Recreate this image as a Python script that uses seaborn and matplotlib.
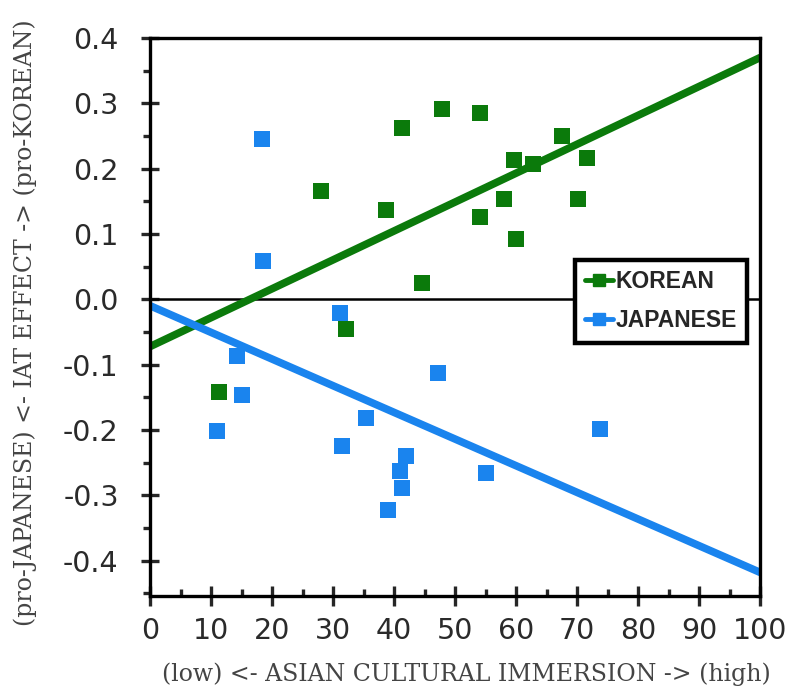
import matplotlib
matplotlib.use("Agg")
import matplotlib.pyplot as plt
from matplotlib.lines import Line2D
from matplotlib.ticker import MultipleLocator
import pandas as pd
import seaborn as sns

# immersion score and IAT effect
korean_x = [28.0, 38.7, 41.3, 47.9, 54.1, 54.1, 44.6, 58.0, 59.7, 62.8,
            67.5, 71.6, 70.2, 60.0, 32.1, 11.3]
korean_y = [0.166, 0.137, 0.262, 0.292, 0.285, 0.126, 0.025, 0.153, 0.213, 0.207,
            0.250, 0.216, 0.153, 0.092, -0.045, -0.142]

japanese_x = [18.4, 18.5, 31.1, 14.3, 15.1, 11.0, 35.4, 31.5, 39.0, 41.0,
              42.0, 41.3, 47.2, 55.1, 73.8]
japanese_y = [0.245, 0.059, -0.021, -0.086, -0.147, -0.201, -0.181, -0.225, -0.323, -0.262,
              -0.240, -0.288, -0.112, -0.266, -0.198]

groups = ["KOREAN", "JAPANESE"]
colors = {"KOREAN": "#0b7a0b", "JAPANESE": "#1a84ee"}

y_ticks = [-0.4, -0.3, -0.2, -0.1, 0.0, 0.1, 0.2, 0.3, 0.4]
y_labels = ["-0.4", "-0.3", "-0.2", "-0.1", "0.0", "0.1", "0.2", "0.3", "0.4"]

df = pd.concat([
    pd.DataFrame({"immersion": korean_x, "iat": korean_y, "group": "KOREAN"}),
    pd.DataFrame({"immersion": japanese_x, "iat": japanese_y, "group": "JAPANESE"}),
])

sns.set_style("ticks")
plt.rcParams["font.family"] = ["DejaVu Sans"]

fig = plt.figure(figsize=(7.9, 6.88), dpi=100)
ax = fig.add_axes([150 / 790, 1 - 596 / 688, 610 / 790, 558 / 688])
ax.set_xlim(0, 100)
ax.set_ylim(-0.454, 0.4)

ax.axhline(0, color="black", lw=1.8, zorder=1)

for g in groups:
    sub = df[df.group == g]
    sns.regplot(data=sub, x="immersion", y="iat", ax=ax, ci=None, truncate=False,
                marker="s", color=colors[g],
                scatter_kws={"s": 125, "linewidths": 0, "alpha": 1, "zorder": 3},
                line_kws={"lw": 5.5, "zorder": 2})

ax.set_xlim(0, 100)
ax.set_ylim(-0.454, 0.4)

for side in ["left", "right", "top", "bottom"]:
    ax.spines[side].set_linewidth(2.4)
    ax.spines[side].set_color("black")

ax.xaxis.set_major_locator(MultipleLocator(10))
ax.xaxis.set_minor_locator(MultipleLocator(5))
ax.yaxis.set_minor_locator(MultipleLocator(0.05))
ax.set_yticks(y_ticks)
ax.set_yticklabels(y_labels)

ax.tick_params(axis="x", which="major", direction="inout", length=14, width=2.4,
               labelsize=20.5, pad=8, labelcolor="#2a2a2a")
ax.tick_params(axis="x", which="minor", direction="in", length=5, width=2.4)
ax.tick_params(axis="y", which="major", direction="inout", length=13, width=2.4,
               labelsize=20.5, pad=16, labelcolor="#2a2a2a")
ax.tick_params(axis="y", which="minor", direction="out", length=5, width=2.4)

ax.set_xlabel("(low) <- ASIAN CULTURAL IMMERSION -> (high)", family="DejaVu Serif",
              fontsize=17, color="#444444")
ax.set_ylabel("(pro-JAPANESE) <- IAT EFFECT -> (pro-KOREAN)", family="DejaVu Serif",
              fontsize=17, color="#444444")
ax.xaxis.set_label_coords(0.518, -0.12)
ax.yaxis.set_label_coords(-0.185, 0.49)

handles = [Line2D([0], [0], color=colors[g], lw=3.5, marker="s", markersize=8) for g in groups]
leg = ax.legend(handles, groups, loc="upper left", bbox_to_anchor=(0.697, 0.602),
                frameon=True, fancybox=False, framealpha=1, edgecolor="black",
                prop={"family": "Liberation Sans", "weight": "bold", "size": 16.5},
                handlelength=1.2, handletextpad=0.1, labelspacing=0.7,
                borderpad=0.45, borderaxespad=0)
leg.get_frame().set_linewidth(3.2)
leg.set_zorder(5)

fig.savefig("out.png", dpi=100)
